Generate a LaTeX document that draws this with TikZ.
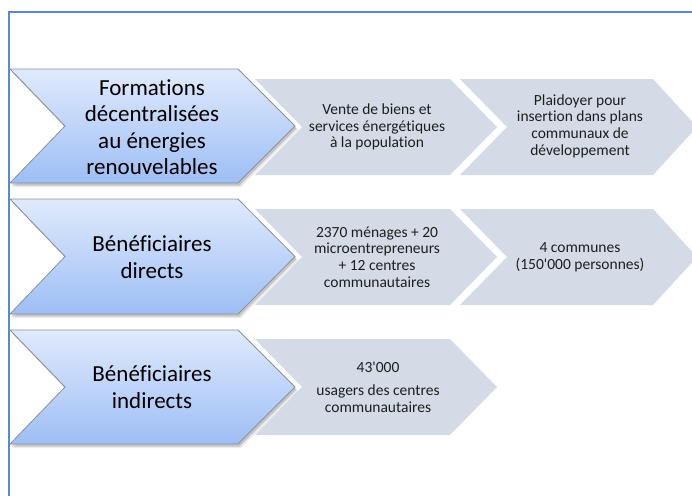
\documentclass[tikz,border=0pt]{standalone}
\usepackage{fontspec}
\setmainfont{Carlito}[Ligatures={TeXOff,NoCommon}]
\definecolor{bluetop}{RGB}{224,234,252}
\definecolor{bluebot}{RGB}{158,190,245}
\definecolor{chevline}{RGB}{135,145,160}
\definecolor{grayfill}{RGB}{212,219,231}
\definecolor{framecol}{RGB}{91,137,201}
\definecolor{textgray}{RGB}{30,30,30}
\begin{document}
\begin{tikzpicture}[x=1pt,y=-1pt,
  bluechev/.style={draw=chevline, line width=0.8pt, top color=bluetop, bottom color=bluebot},
  graychev/.style={fill=grayfill},
  shadowchev/.style={fill=black, opacity=0.16},
  shadowsoft/.style={fill=black, opacity=0.08},
  bigtext/.style={font=\fontsize{23}{26.5}\selectfont, align=center, text=black, inner sep=0pt},
  smalltext/.style={font=\fontsize{15.5}{16.6}\selectfont, align=center, text=textgray, inner sep=0pt},
  frameline/.style={draw=framecol, line width=2pt}]
\useasboundingbox[fill=white] (0,0) rectangle (692,495);
\clip (0,0) rectangle (692,495);
% frame
\draw[frameline] (9,496) -- (9,12) -- (693,12);
% gray chevrons
\path[graychev] (255,79) -- (450,79) -- (497,127) -- (450,175) -- (255,175) -- (302,127) -- cycle;
\path[graychev] (460,79) -- (653,79) -- (697,127) -- (653,175) -- (460,175) -- (507,127) -- cycle;
\path[graychev] (255,209) -- (450,209) -- (497,257) -- (450,305) -- (255,305) -- (302,257) -- cycle;
\path[graychev] (460,209) -- (653,209) -- (697,257) -- (653,305) -- (460,305) -- (507,257) -- cycle;
\path[graychev] (255,339) -- (450,339) -- (497,387) -- (450,435) -- (255,435) -- (302,387) -- cycle;
% shadows and blue chevrons
\foreach \t/\b in {69/183, 199/314, 330/444}{
  \pgfmathsetmacro{\m}{(\t+\b)/2}
  \begin{scope}[shift={(3,4)}]
    \path[shadowsoft] (10,\t) -- (238,\t) -- (295,\m) -- (238,\b) -- (10,\b) -- (65,\m) -- cycle;
  \end{scope}
  \begin{scope}[shift={(1.5,2.5)}]
    \path[shadowchev] (10,\t) -- (238,\t) -- (295,\m) -- (238,\b) -- (10,\b) -- (65,\m) -- cycle;
  \end{scope}
  \path[bluechev] (10,\t) -- (238,\t) -- (295,\m) -- (238,\b) -- (10,\b) -- (65,\m) -- cycle;
}
% texts
\node[bigtext] (b1) at (152,127) {Formations\\décentralisées\\au énergies\\renouvelables};
\node[bigtext] (b2) at (152,257) {Bénéficiaires\\directs};
\node[bigtext] (b3) at (152,387) {Bénéficiaires\\indirects};
\node[smalltext] (g11) at (377,127) {Vente de biens et\\services énergétiques\\à la population};
\node[smalltext] (g12) at (580,126) {Plaidoyer pour\\insertion dans plans\\communaux de\\développement};
\node[smalltext] (g21) at (377,257) {2370 ménages + 20\\microentrepreneurs\\+ 12 centres\\communautaires};
\node[smalltext] (g22) at (580,257) {4 communes\\(150'000 personnes)};
\node[smalltext] (g31) at (378,387) {43'000\\[7pt]usagers des centres\\communautaires};
\end{tikzpicture}
\end{document}
